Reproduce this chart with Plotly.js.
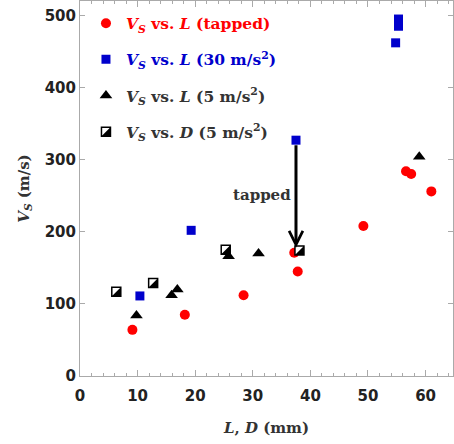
<!DOCTYPE html>
<html>
<head>
<meta charset="utf-8">
<script src="https://cdn.plot.ly/plotly-3.0.1.min.js"></script>
<style>html,body{margin:0;padding:0;background:#fff;}#chart{width:454px;height:444px;}</style>
</head>
<body>
<div id="chart"></div>
<script>
// Data
const tappedL = [9.1, 18.2, 28.4, 37.2, 37.8, 49.2, 56.6, 57.5, 61.0];
const tappedV = [64, 85, 112, 171, 145, 208, 284, 280, 256];

const acc30L = [10.4, 19.3, 37.5, 54.8, 55.3, 55.3];
const acc30V = [111, 202, 327, 462, 485, 495];

const acc5L = [9.8, 15.9, 16.9, 25.8, 31.0, 58.9];
const acc5V = [84, 112, 120, 166, 170, 304];

const acc5D = [6.3, 12.7, 25.3, 38.1];
const acc5DV = [117, 129, 175, 174];

const names = [
  '<span style="color:#ff0000"><i>V</i><sub><i>S</i></sub> vs. <i>L</i> (tapped)</span>',
  '<span style="color:#0000cc"><i>V</i><sub><i>S</i></sub> vs. <i>L</i> (30 m/s<sup>2</sup>)</span>',
  '<i>V</i><sub><i>S</i></sub> vs. <i>L</i> (5 m/s<sup>2</sup>)',
  '<i>V</i><sub><i>S</i></sub> vs. <i>D</i> (5 m/s<sup>2</sup>)'
];

const W = 454, H = 444;
const M = {l: 80, r: 1, t: 1, b: 68};
const xRange = [0, 64.76];
const yRange = [0, 520];
const sqSize = 9;
const triSize0 = 8;
const serifFont = {family: 'DejaVu Serif', size: 15, color: '#333', weight: 'bold'};
const legendFont = {family: 'DejaVu Serif', size: 15.5, color: '#333', weight: 'bold'};

const traces = [
  {x: tappedL, y: tappedV, type: 'scatter', mode: 'markers', name: names[0], legendgroup: 'a',
   marker: {symbol: 'circle', size: 10, color: '#ff0000'}},
  {x: acc30L, y: acc30V, type: 'scatter', mode: 'markers', name: names[1], legendgroup: 'b',
   marker: {symbol: 'square', size: 9, color: '#0000cc'}},
  {x: acc5L, y: acc5V, type: 'scatter', mode: 'markers', name: names[2], legendgroup: 'c',
   marker: {symbol: 'triangle-up', size: 11, color: '#000000'}},
  {x: acc5D, y: acc5DV, type: 'scatter', mode: 'markers', name: names[3], legendgroup: 'd', uid: 'sq',
   marker: {symbol: 'square', size: sqSize, color: '#ffffff', line: {color: '#000', width: 1.5}}},
  {x: acc5D, y: acc5DV, type: 'scatter', mode: 'markers', name: '', legend: 'legend2', uid: 'tri',
   xaxis: 'x2', yaxis: 'y2', hoverinfo: 'skip',
   marker: {symbol: 'triangle-se', size: triSize0, color: '#000000', line: {width: 0}}}
];

const axisCommon = {
  showgrid: false, zeroline: false, showline: true, linecolor: '#aaaaaa', linewidth: 1,
  mirror: 'allticks', ticks: 'inside', tickcolor: '#aaaaaa', tickwidth: 1,
  tickfont: {family: 'DejaVu Sans', size: 15, color: '#222', weight: 'bold'}
};

const layout = {
  width: W, height: H, margin: M,
  paper_bgcolor: '#fff', plot_bgcolor: '#fff',
  showlegend: true,
  legend: {x: 0.016, y: 0.985, xanchor: 'left', yanchor: 'top', bgcolor: 'rgba(0,0,0,0)',
    traceorder: 'grouped', tracegroupgap: 13, itemwidth: 30, font: legendFont},
  legend2: {x: 0.016, y: 0.65, xanchor: 'left', yanchor: 'top', bgcolor: 'rgba(0,0,0,0)',
    itemwidth: 30, font: legendFont},
  xaxis: Object.assign({}, axisCommon, {range: xRange, dtick: 10, ticklen: 6, ticklabelstandoff: 6,
    minor: {dtick: 2, ticklen: 3, ticks: 'inside', tickcolor: '#aaaaaa'},
    title: {text: '<i>L</i>, <i>D</i> (mm)', font: serifFont, standoff: 18}}),
  yaxis: Object.assign({}, axisCommon, {range: yRange, dtick: 100, ticklen: 5,
    title: {text: '<i>V</i><sub><i>S</i></sub> (m/s)', font: serifFont, standoff: 11}}),
  xaxis2: {overlaying: 'x', range: xRange.slice(), visible: false},
  yaxis2: {overlaying: 'y', range: yRange.slice(), visible: false},
  annotations: [
    {x: 37.5, y: 178, ax: 37.5, ay: 322, xref: 'x', yref: 'y', axref: 'x', ayref: 'y',
     text: '', showarrow: true, arrowhead: 5, arrowsize: 0.9, arrowwidth: 3, arrowcolor: '#000', standoff: 0, startstandoff: 0},
    {x: 36.95, y: 251, xref: 'x', yref: 'y', xanchor: 'right', yanchor: 'middle', showarrow: false,
     text: 'tapped', font: serifFont}
  ]
};

const gd = document.getElementById('chart');
function center(r) { return [r.left + r.width / 2, r.top + r.height / 2]; }

Plotly.newPlot(gd, traces, layout, {displayModeBar: false, staticPlot: true}).then(async () => {
  try {
    const sz = gd._fullLayout._size;
    const ux = (xRange[1] - xRange[0]) / sz.w, uy = (yRange[1] - yRange[0]) / sz.h;
    // fit the half-fill triangle inside the open square
    const sq = gd.querySelector('.scatterlayer .tracesq path.point').getBBox();
    const tr = gd.querySelector('.scatterlayer .tracetri path.point').getBBox();
    const scale = sq.width / tr.width;
    const cx = (tr.x + tr.width / 2) * scale - (sq.x + sq.width / 2);
    const cy = (tr.y + tr.height / 2) * scale - (sq.y + sq.height / 2);
    await Plotly.restyle(gd, {'marker.size': triSize0 * scale}, [4]);
    await Plotly.relayout(gd, {
      'xaxis2.range': [xRange[0] + cx * ux, xRange[1] + cx * ux],
      'yaxis2.range': [yRange[0] - cy * uy, yRange[1] - cy * uy]
    });
    // place the legend2 triangle on top of the legend square
    const items = gd.querySelectorAll('g.legend g.traces');
    const sqL = items[items.length - 1].querySelector('.legendpoints path').getBoundingClientRect();
    const trL = gd.querySelector('g.legend2 g.traces .legendpoints path').getBoundingClientRect();
    const a = center(sqL), b = center(trL);
    const ddx = a[0] - b[0], ddy = a[1] - b[1];
    await Plotly.relayout(gd, {
      'legend2.x': gd._fullLayout.legend2.x + ddx / sz.w,
      'legend2.y': gd._fullLayout.legend2.y - ddy / sz.h
    });
  } catch (e) { console.error(e); }
});
</script>
</body>
</html>
